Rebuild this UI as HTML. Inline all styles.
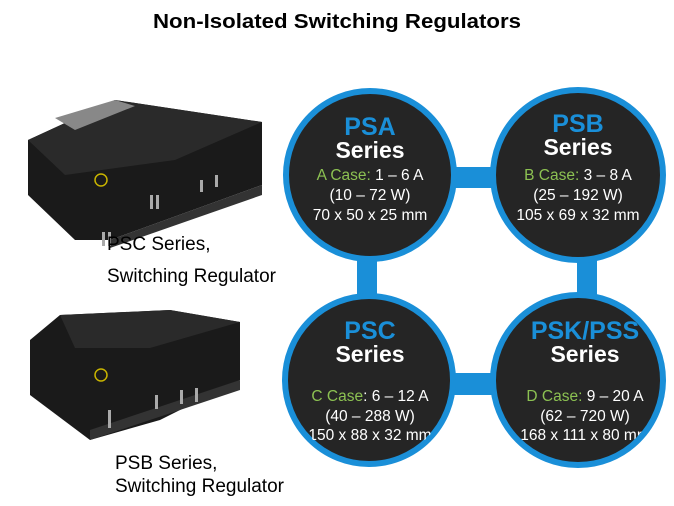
<!DOCTYPE html>
<html><head><meta charset="utf-8"><style>
html,body{margin:0;padding:0;background:#fff;width:674px;height:506px;overflow:hidden}
</style></head><body>
<svg width="674" height="506" xmlns="http://www.w3.org/2000/svg" font-family="Liberation Sans, sans-serif">
<defs>
<clipPath id="c1"><circle cx="369" cy="380" r="82"/></clipPath>
<clipPath id="c2"><circle cx="578" cy="380" r="82"/></clipPath>
</defs>
<text x="153" y="28" textLength="368" lengthAdjust="spacingAndGlyphs" font-size="20" font-weight="bold" fill="#000">Non-Isolated Switching Regulators</text>

<!-- connectors -->
<rect x="440" y="167" width="70" height="21" fill="#1a8fd8"/>
<rect x="440" y="373" width="70" height="22" fill="#1a8fd8"/>
<rect x="357" y="250" width="20" height="55" fill="#1a8fd8"/>
<rect x="577" y="250" width="20" height="55" fill="#1a8fd8"/>

<!-- circles -->
<g fill="#252525" stroke="#1a8fd8" stroke-width="6">
<circle cx="370" cy="175" r="84"/>
<circle cx="578" cy="175" r="85"/>
<circle cx="369" cy="380" r="84"/>
<circle cx="578" cy="380" r="85"/>
</g>

<g text-anchor="middle">
<text x="370" y="135" font-size="25" font-weight="bold" fill="#1a8fd8">PSA</text>
<text x="370" y="158" font-size="23" font-weight="bold" fill="#fff">Series</text>
<text x="370" y="180" font-size="15.5" fill="#fff"><tspan fill="#8cc152">A Case:</tspan> 1 – 6 A</text>
<text x="370" y="200" font-size="15.5" fill="#fff">(10 – 72 W)</text>
<text x="370" y="220" font-size="15.5" fill="#fff">70 x 50 x 25 mm</text>

<text x="578" y="132" font-size="25" font-weight="bold" fill="#1a8fd8">PSB</text>
<text x="578" y="155" font-size="23" font-weight="bold" fill="#fff">Series</text>
<text x="578" y="180" font-size="15.5" fill="#fff"><tspan fill="#8cc152">B Case:</tspan> 3 – 8 A</text>
<text x="578" y="200" font-size="15.5" fill="#fff">(25 – 192 W)</text>
<text x="578" y="220" font-size="15.5" fill="#fff">105 x 69 x 32 mm</text>

<text x="370" y="339" font-size="25" font-weight="bold" fill="#1a8fd8">PSC</text>
<text x="370" y="362" font-size="23" font-weight="bold" fill="#fff">Series</text>
<g clip-path="url(#c1)">
<text x="370" y="401" font-size="15.5" fill="#fff"><tspan fill="#8cc152">C Case</tspan>: 6 – 12 A</text>
<text x="370" y="421" font-size="15.5" fill="#fff">(40 – 288 W)</text>
<text x="370" y="440" font-size="15.5" fill="#fff">150 x 88 x 32 mm</text>
</g>

<text x="585" y="339" font-size="25" font-weight="bold" fill="#1a8fd8">PSK/PSS</text>
<text x="585" y="362" font-size="23" font-weight="bold" fill="#fff">Series</text>
<g clip-path="url(#c2)">
<text x="585" y="401" font-size="15.5" fill="#fff"><tspan fill="#8cc152">D Case:</tspan> 9 – 20 A</text>
<text x="585" y="421" font-size="15.5" fill="#fff">(62 – 720 W)</text>
<text x="585" y="440" font-size="15.5" fill="#fff">168 x 111 x 80 mm</text>
</g>
</g>

<!-- product photo 1 -->
<g>
<polygon points="28,140 115,100 262,122 262,185 110,240 75,240 28,195" fill="#1a1a1a"/>
<polygon points="28,140 115,100 262,122 175,160 65,175" fill="#2a2a2a"/>
<polygon points="55,118 115,100 135,106 75,130" fill="#888"/>
<polygon points="110,240 262,185 262,195 110,248" fill="#333"/>
<rect x="102" y="232" width="3" height="14" fill="#aaa"/><rect x="108" y="232" width="3" height="14" fill="#aaa"/>
<rect x="150" y="195" width="3" height="14" fill="#aaa"/><rect x="156" y="195" width="3" height="14" fill="#aaa"/>
<rect x="200" y="180" width="3" height="12" fill="#aaa"/><rect x="215" y="175" width="3" height="12" fill="#aaa"/>
<circle cx="101" cy="180" r="6" fill="none" stroke="#c8b400" stroke-width="1.5"/>
</g>
<text x="107" y="250" font-size="19" fill="#000">PSC Series,</text>
<text x="107" y="282" font-size="19" fill="#000">Switching Regulator</text>

<!-- product photo 2 -->
<g>
<polygon points="30,340 60,315 170,310 240,322 240,380 160,420 90,440 30,395" fill="#1a1a1a"/>
<polygon points="60,315 170,310 240,322 150,348 75,348" fill="#2a2a2a"/>
<polygon points="90,430 240,380 240,390 90,440" fill="#333"/>
<rect x="108" y="410" width="3" height="18" fill="#aaa"/><rect x="155" y="395" width="3" height="14" fill="#aaa"/>
<rect x="180" y="390" width="3" height="14" fill="#aaa"/><rect x="195" y="388" width="3" height="14" fill="#aaa"/>
<circle cx="101" cy="375" r="6" fill="none" stroke="#c8b400" stroke-width="1.5"/>
</g>
<text x="115" y="469" font-size="19" fill="#000">PSB Series,</text>
<text x="115" y="492" font-size="19" fill="#000">Switching Regulator</text>
</svg>
</body></html>
